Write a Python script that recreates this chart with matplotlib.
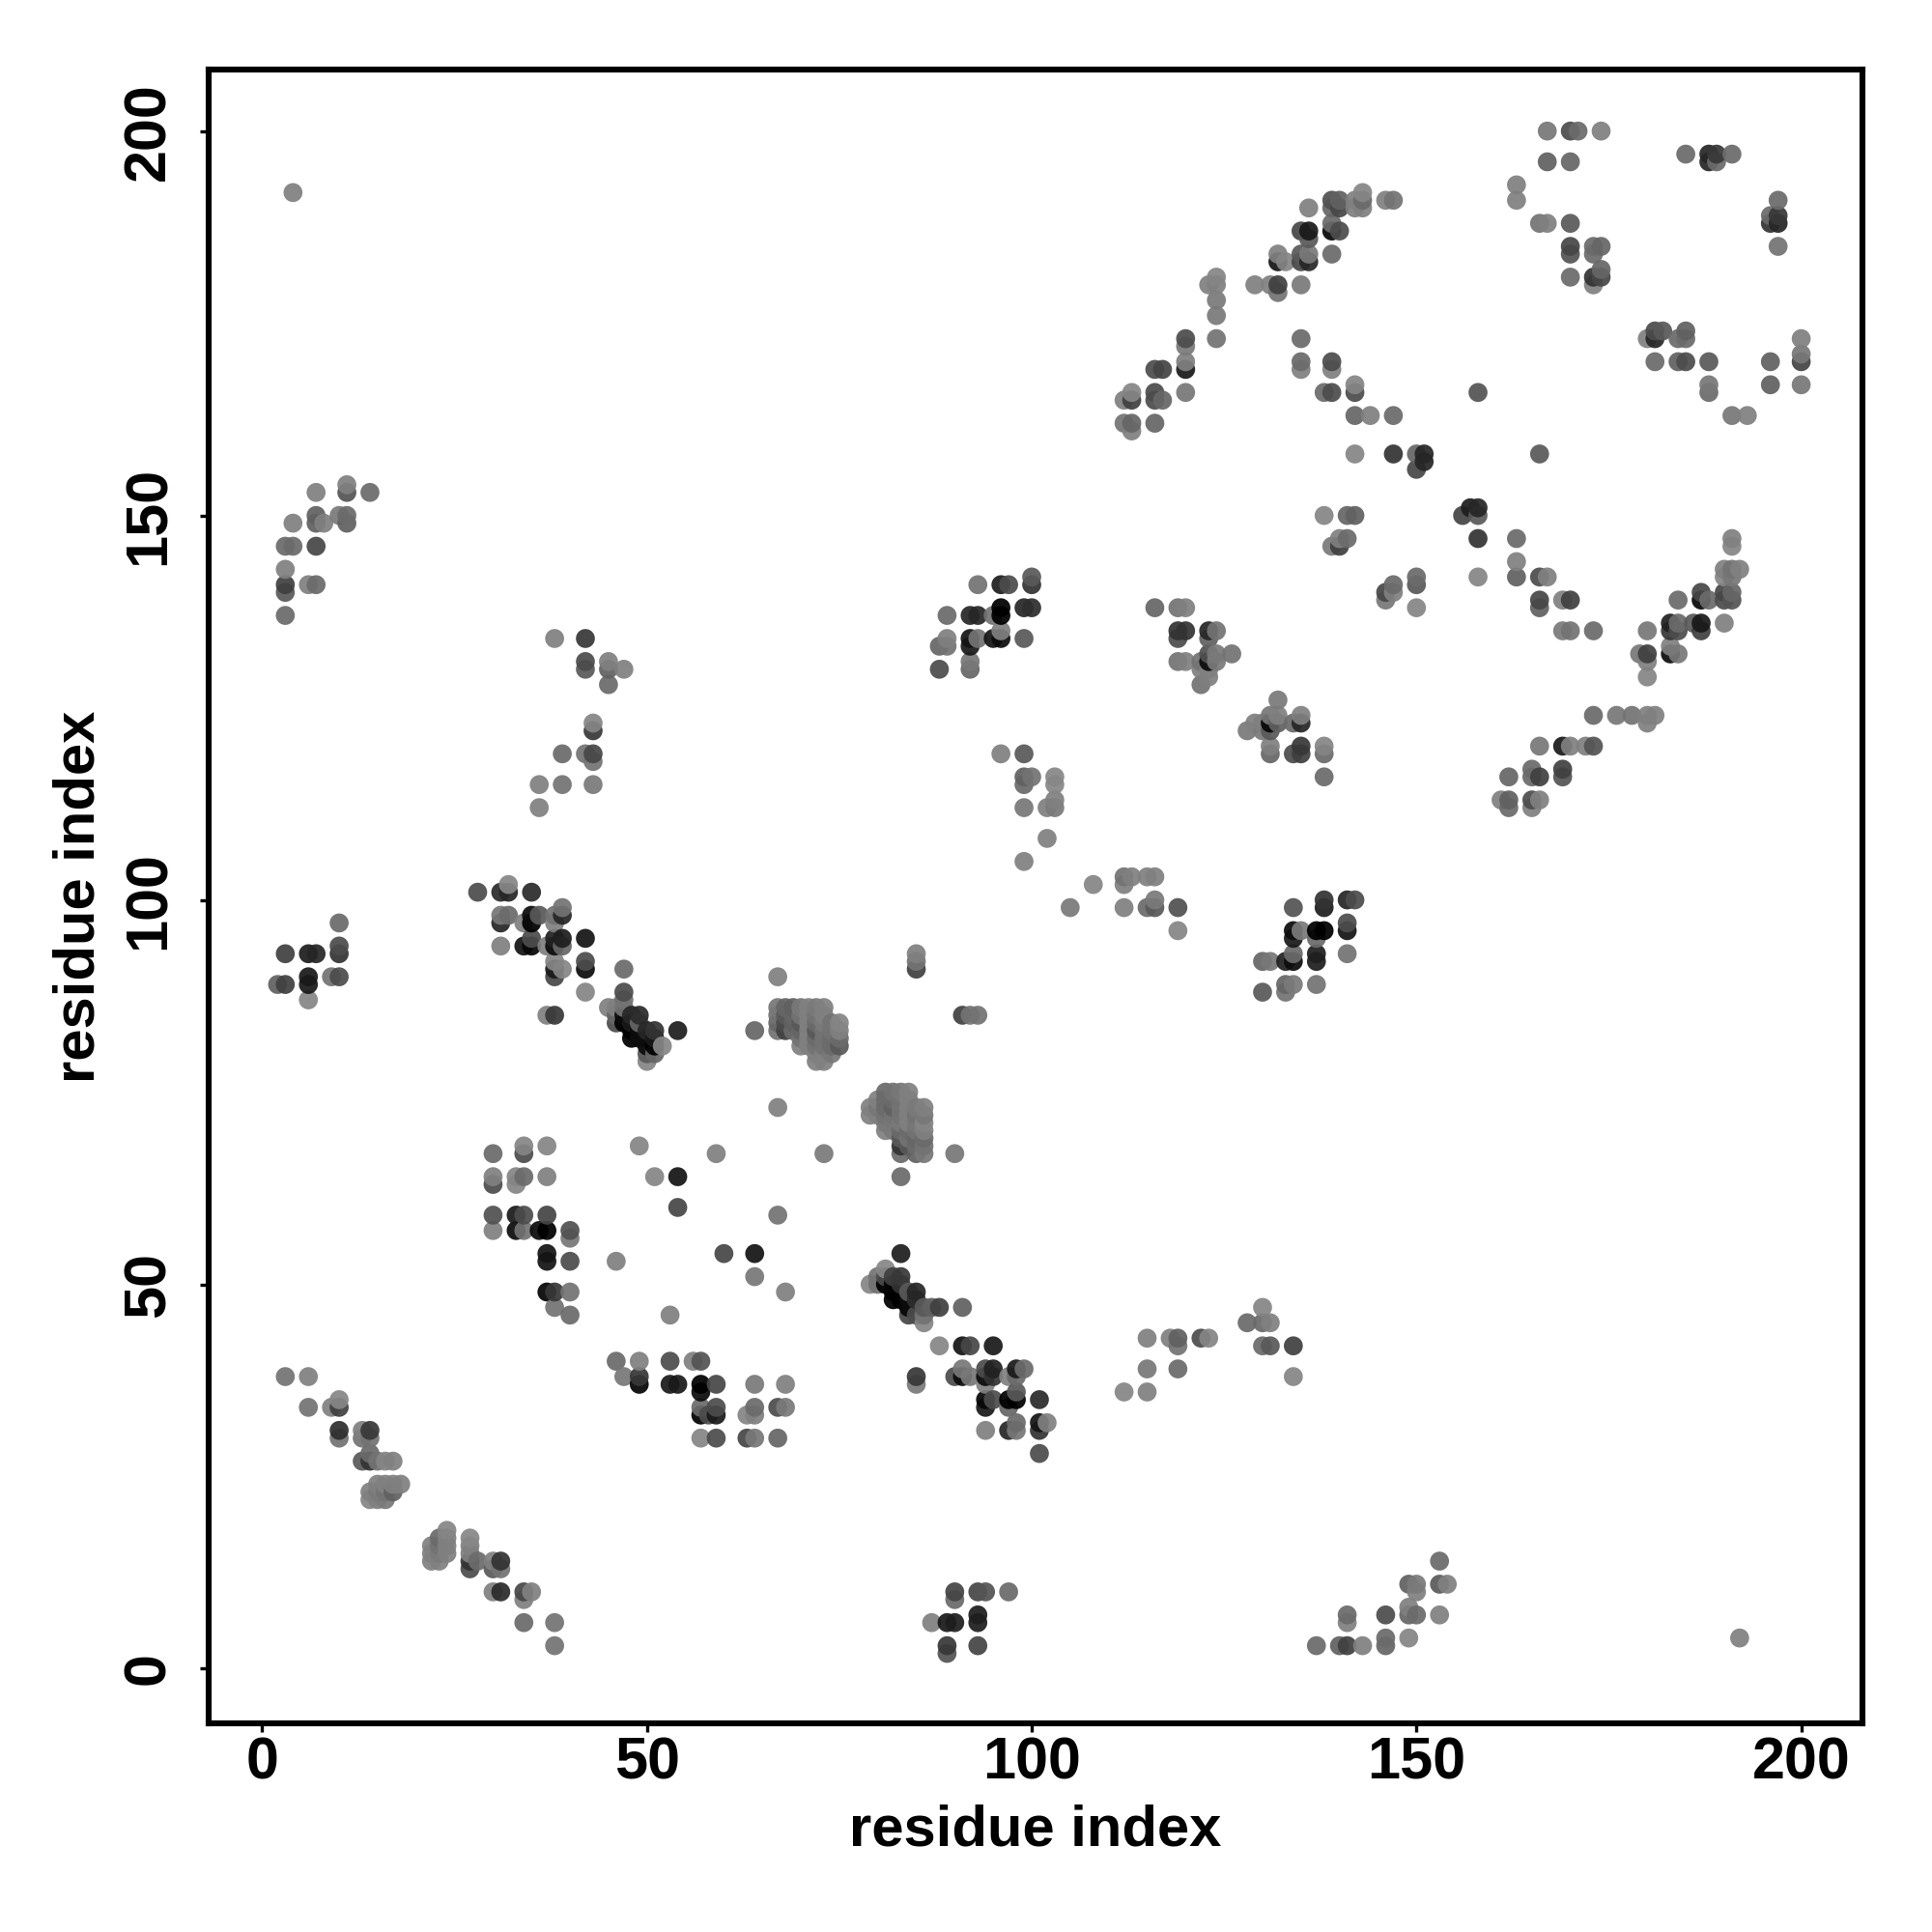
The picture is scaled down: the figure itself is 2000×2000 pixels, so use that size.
import numpy as np
import matplotlib
matplotlib.use("Agg")
import matplotlib.pyplot as plt

plt.rcParams["font.family"] = ["Liberation Sans", "DejaVu Sans"]

# (residue i, residue j, grey level of the dot)
low_diagonal = [
    (3,38,.45),(6,38,.5),(6,34,.45),(9,34,.5),(10,34,.25),(10,35,.53),(10,31,.18),(10,30,.45),
    (13,31,.5),(13,30,.45),(14,31,.22),(14,30,.45),(14,28,.42),(13,27,.35),(14,27,.2),(15,27,.45),
    (16,27,.52),(17,27,.5),(15,24,.5),(16,24,.5),(17,24,.5),(18,24,.5),(14,23,.5),(15,23,.48),
    (16,23,.45),(17,23,.38),(14,22,.52),(15,22,.5),(16,22,.48),
    (24,18,.52),(24,17,.5),(24,16,.5),(24,15,.5),(23,17,.42),(23,16,.45),(23,15,.48),(23,14,.5),
    (22,16,.5),(22,15,.5),(22,14,.5),
    (27,17,.53),(27,16,.5),(27,15,.5),(27,14,.2),(27,13,.3),(28,14,.42),(30,14,.5),(30,13,.35),
    (31,14,.2),(31,13,.45),(30,10,.5),(31,10,.17),(34,10,.28),(34,9,.5),(35,10,.5),
    (34,6,.42),(38,6,.45),(38,3,.45),
]
upper_left = [
    (10,97,.42),(10,94,.3),(10,93,.2),(3,93,.25),(6,93,.12),(7,93,.15),(6,90,.1),(6,89,.1),(6,87,.52),
    (2,89,.38),(3,89,.25),(9,90,.45),(10,90,.3),
    (3,137,.42),(3,140,.35),(3,141,.25),(3,143,.5),(6,141,.5),(7,141,.42),(3,146,.42),(4,146,.42),
    (7,146,.28),(4,149,.5),(7,150,.38),(7,149,.38),(8,149,.5),(10,150,.48),(11,150,.42),(11,149,.38),
    (7,153,.5),(11,154,.5),(11,153,.33),(14,153,.42),(4,192,.5),
]
block_100 = [
    (28,101,.3),(31,101,.17),(32,101,.15),(32,102,.53),(35,101,.17),(31,98,.47),(32,98,.42),(35,98,.05),
    (36,98,.35),(38,98,.45),(39,99,.45),(39,98,.15),(31,97,.15),(34,97,.5),(35,97,.0),(38,97,.5),
    (35,95,.3),(38,95,.13),(39,95,.12),(42,95,.08),(31,94,.5),(34,94,.08),(35,94,.03),(37,94,.5),
    (38,94,.05),(39,94,.4),(42,92,.3),(38,92,.52),(38,91,.1),(39,91,.52),(42,91,.05),(47,91,.42),
    (38,90,.28),(42,88,.52),(37,85,.5),(38,85,.22),
]
strand_85 = [
    (47,88,.3),(47,87,.45),(45,86,.5),(46,86,.5),(47,86,.45),(46,85,.4),(47,85,.05),(48,85,.15),
    (49,85,.17),(46,84,.3),(47,84,.0),(48,84,.1),(49,84,.4),(48,83,.0),(49,83,.05),(50,83,.15),
    (51,83,.2),(48,82,.0),(49,82,.05),(50,82,.05),(51,82,.1),(52,81,.53),(51,81,.0),(50,81,.05),
    (50,80,.35),(51,80,.4),(50,79,.52),(54,83,.12),
]
block_60 = [
    (30,67,.42),(34,68,.52),(34,67,.3),(37,68,.52),(49,68,.52),(59,67,.5),(30,64,.5),(33,64,.52),
    (34,64,.42),(37,64,.5),(51,64,.52),(54,64,.08),(30,63,.3),(33,63,.52),(54,60,.28),(30,59,.32),
    (33,59,.1),(34,59,.3),(37,59,.27),(30,57,.5),(33,57,.05),(34,57,.45),(36,57,.05),(37,57,.0),
    (40,57,.32),(40,56,.47),(37,54,.08),(37,53,.08),(40,53,.3),(46,53,.5),(60,54,.28),(37,49,.02),
    (38,49,.22),(40,49,.45),(38,47,.45),(40,46,.42),(53,46,.5),
]
block_35 = [
    (46,40,.42),(49,40,.5),(53,40,.3),(56,40,.5),(57,40,.33),(47,38,.47),(49,38,.22),(49,37,.02),
    (53,37,.1),(54,37,.1),(57,37,.0),(59,37,.28),(57,36,.05),(57,34,.42),(59,34,.3),(57,33,.0),
    (58,33,.3),(59,33,.1),(57,30,.52),(59,30,.3),(64,54,.08),(64,51,.47),(68,49,.5),(64,37,.48),
    (68,37,.5),(64,34,.42),(67,34,.3),(68,34,.48),(64,33,.5),(63,33,.52),(63,30,.28),(64,30,.47),
    (67,30,.4),
]
strand_48 = [
    (83,54,.12),(79,50,.52),(80,51,.45),(80,50,.45),(81,52,.53),(81,51,.3),(81,50,.0),(82,51,.25),
    (83,51,.22),(82,50,.02),(83,50,.2),(82,49,.0),(83,49,.0),(84,49,.35),(85,49,.15),(82,48,.0),
    (83,48,.0),(84,48,.05),(85,48,.18),(84,47,.02),(86,47,.35),(87,47,.38),(88,47,.25),(91,47,.38),
    (84,46,.28),(85,46,.3),(86,46,.45),(86,45,.52),
]
block_35_right = [
    (88,42,.53),(91,42,.08),(92,42,.28),(95,42,.1),(91,39,.47),(94,39,.3),(95,39,.13),(98,39,.1),
    (99,39,.42),(85,38,.22),(85,37,.48),(90,38,.3),(91,38,.05),(92,38,.47),(94,38,.05),(95,38,.2),
    (97,38,.5),(98,38,.42),(94,37,.5),(98,36,.35),(94,35,.03),(95,35,.3),(97,35,.0),(98,35,.0),
    (101,35,.17),(94,34,.1),(97,34,.4),(98,32,.42),(101,32,.08),(102,32,.5),(94,31,.5),(97,31,.15),
    (98,31,.47),(101,31,.2),(101,28,.3),
    (115,43,.5),(118,43,.5),(119,43,.38),(119,42,.45),(122,43,.3),(123,43,.52),(115,39,.47),(119,39,.42),
    (112,36,.52),(115,36,.5),(130,47,.52),(128,45,.42),(130,45,.42),(131,45,.5),(130,42,.42),(131,42,.35),
    (134,42,.25),(134,38,.52),
]
bottom_row = [
    (90,10,.27),(90,9,.42),(93,10,.28),(94,10,.33),(97,10,.42),(87,6,.5),(89,6,.1),(90,6,.12),(93,7,.12),
    (93,6,.12),(89,3,.22),(89,2,.33),(93,3,.27),
    (137,3,.42),(140,3,.38),(141,3,.25),(143,3,.5),(141,7,.42),(141,6,.5),(146,7,.3),(146,4,.42),(146,3,.4),
    (149,8,.5),(149,7,.4),(150,7,.42),(149,4,.52),(153,7,.5),(149,11,.38),(150,11,.48),(150,10,.5),
    (153,14,.42),(153,11,.35),(154,11,.5),(192,4,.5),
]
helix_a = [
    (67,90,.5),(85,93,.5),(85,92,.45),(85,91,.25),(91,85,.25),(92,85,.45),(93,85,.45),(64,83,.4),
    (67,86,.47),(68,86,.4),(69,86,.38),(70,86,.47),(71,86,.5),(72,86,.48),(73,86,.5),
    (67,85,.45),(68,85,.35),(69,85,.4),(70,85,.45),(71,85,.5),(72,85,.45),(73,85,.5),
    (67,84,.4),(68,84,.3),(69,84,.38),(70,84,.35),(71,84,.5),(72,84,.42),(73,84,.48),(74,84,.45),(75,84,.52),
    (67,83,.45),(68,83,.25),(69,83,.42),(70,83,.4),(71,83,.5),(72,83,.35),(73,83,.45),(74,83,.45),(75,83,.5),
    (70,82,.45),(71,82,.5),(72,82,.42),(73,82,.45),(74,82,.42),(75,82,.42),
    (70,81,.5),(71,81,.5),(72,81,.45),(73,81,.45),(74,81,.42),(75,81,.35),
    (72,80,.5),(73,80,.5),(74,80,.47),(72,79,.5),(73,79,.5),
]
helix_b = [
    (67,73,.5),(73,67,.48),(90,67,.47),(83,64,.42),(67,59,.45),
    (81,75,.42),(82,75,.45),(83,75,.47),(84,75,.5),
    (80,74,.5),(81,74,.42),(82,74,.42),(83,74,.45),(84,74,.5),
    (79,73,.5),(80,73,.47),(81,73,.42),(82,73,.38),(83,73,.45),(84,73,.5),(85,73,.48),(86,73,.5),
    (79,72,.5),(80,72,.5),(81,72,.45),(82,72,.45),(83,72,.45),(84,72,.5),(85,72,.45),(86,72,.47),
    (81,71,.47),(82,71,.47),(83,71,.48),(84,71,.5),(85,71,.47),(86,71,.52),
    (81,70,.5),(82,70,.48),(83,70,.42),(84,70,.42),(85,70,.45),(86,70,.5),
    (83,69,.35),(84,69,.45),(85,69,.4),(86,69,.42),
    (83,68,.2),(84,68,.35),(85,68,.42),(86,68,.45),(83,67,.42),(85,67,.38),(86,67,.47),
]
middle = [
    (99,105,.5),(102,108,.5),(99,112,.47),(102,112,.5),(103,112,.48),(103,113,.5),(103,115,.53),(103,116,.53),
    (99,116,.38),(100,116,.45),(99,115,.42),(96,119,.5),(99,119,.35),(105,99,.48),(108,102,.52),
    (112,103,.45),(113,103,.5),(115,103,.5),(116,103,.5),(112,102,.5),(112,99,.5),(115,99,.42),(116,99,.35),
    (116,100,.48),(119,99,.32),(119,96,.52),
    (134,99,.33),(138,100,.2),(138,99,.12),(141,100,.15),(142,100,.3),(141,97,.3),(141,96,.08),(134,96,.05),
    (135,96,.48),(137,96,.0),(138,96,.0),(134,95,.1),(137,95,.42),(134,93,.42),(137,93,.12),(141,93,.45),
    (130,92,.4),(131,92,.47),(133,92,.13),(134,92,.05),(137,92,.12),(133,89,.4),(134,89,.48),(137,89,.45),
    (130,88,.35),(133,88,.45),
]
block_135 = [
    (93,141,.45),(96,141,.12),(97,141,.3),(100,142,.35),(100,141,.2),(99,138,.15),(100,138,.18),(96,138,.0),
    (96,137,.0),(95,137,.45),(93,137,.15),(92,137,.15),(96,135,.5),(93,134,.45),(95,134,.08),(96,134,.05),
    (99,134,.35),(92,134,.08),(92,133,.1),(92,131,.47),(92,130,.4),(88,130,.3),(88,133,.4),(89,134,.5),
    (89,137,.42),(89,133,.45),
    (116,138,.4),(119,138,.45),(120,138,.5),(119,135,.2),(120,135,.2),(123,135,.15),(124,135,.45),
    (119,134,.3),(123,134,.38),(123,132,.32),(124,132,.48),(126,132,.45),(119,131,.45),(120,131,.5),
    (122,131,.45),(123,131,.05),(124,131,.48),(122,130,.5),(123,130,.5),(123,129,.5),(122,128,.45),
]
block_120 = [
    (132,126,.48),(131,124,.47),(132,124,.5),(135,124,.5),(129,123,.5),(130,123,.5),(131,123,.03),
    (132,123,.38),(134,123,.42),(135,123,.15),(128,122,.48),(130,122,.48),(131,122,.35),(131,120,.5),
    (135,120,.22),(138,120,.52),(131,119,.4),(134,119,.3),(135,119,.25),(138,119,.42),(138,116,.42),
    (150,142,.42),(150,141,.35),(150,138,.52),(147,141,.42),(147,140,.5),(146,140,.28),(146,139,.47),
]
top_strand = [
    (113,161,.5),(113,162,.4),(112,162,.45),(116,162,.4),(112,165,.5),(113,165,.25),(113,166,.52),
    (116,166,.3),(116,165,.3),(117,165,.4),(120,166,.47),(116,169,.3),(117,169,.27),(120,169,.1),
    (120,170,.5),(120,172,.48),(120,173,.3),(124,173,.45),(124,176,.48),(124,178,.48),(123,180,.5),
    (124,180,.5),(124,181,.52),(129,180,.5),(131,180,.5),(132,180,.25),(132,179,.45),(135,180,.48),
    (132,184,.5),(133,183,.52),(132,183,.08),(135,184,.35),(136,184,.48),(135,183,.28),(136,183,.15),
    (139,184,.42),(135,187,.28),(136,187,.1),(136,186,.35),(139,188,.42),(139,187,.03),(140,187,.3),
    (136,190,.5),(139,191,.32),(140,191,.38),(139,190,.4),(140,190,.28),(142,191,.5),(143,192,.52),
    (143,191,.42),(142,190,.5),(143,190,.5),(146,191,.5),(147,191,.45),
]
top_middle = [
    (135,173,.42),(135,170,.42),(135,169,.5),(139,170,.3),(139,169,.5),(138,166,.42),(139,166,.3),
    (142,167,.52),(142,166,.3),(142,163,.4),(144,163,.5),(147,163,.42),(158,166,.33),(142,158,.52),
    (147,158,.2),(150,158,.4),(151,158,.15),(151,157,.15),(150,156,.28),(166,158,.35),(157,151,.12),
    (158,151,.15),(156,150,.27),(158,150,.35),(158,147,.2),(163,147,.42),(163,144,.5),(138,150,.52),
    (141,150,.4),(142,150,.38),(141,147,.42),(140,147,.5),(140,146,.25),(139,146,.48),
]
top_right = [
    (167,200,.47),(170,200,.3),(171,200,.42),(174,200,.5),(167,196,.38),(170,196,.4),(163,193,.5),(163,191,.5),
    (166,188,.45),(167,188,.5),(170,188,.35),(170,185,.28),(170,184,.33),(173,185,.42),(174,185,.4),
    (173,184,.42),(170,181,.42),(174,182,.4),(173,181,.2),(174,181,.28),(173,180,.5),
    (185,197,.42),(188,197,.15),(189,197,.22),(191,197,.42),(188,196,.15),(189,196,.42),(197,191,.42),
    (196,189,.42),(197,189,.22),(196,188,.2),(197,188,.15),(197,185,.45),
    (181,174,.3),(182,174,.35),(185,174,.38),(180,173,.5),(181,173,.15),(184,173,.42),(185,173,.42),
    (181,170,.42),(184,170,.38),(185,170,.3),(188,170,.35),(188,167,.47),(188,166,.42),(196,170,.38),
    (200,173,.5),(200,171,.47),(200,170,.27),(196,167,.38),(200,167,.47),(191,163,.47),(193,163,.5),
]
right_arm = [
    (158,142,.52),(163,142,.38),(166,142,.3),(167,142,.5),(166,139,.28),(166,138,.38),(169,139,.5),(170,139,.25),
    (169,135,.48),(170,135,.45),(173,135,.42),(173,124,.42),(176,124,.47),(178,124,.45),(180,124,.5),(181,124,.5),
    (180,123,.5),(166,120,.47),(169,120,.1),(170,120,.5),(172,120,.5),(173,120,.33),(162,116,.4),(165,117,.42),
    (165,116,.42),(166,116,.25),(169,117,.25),(169,116,.33),(161,113,.5),(162,113,.38),(162,112,.42),
    (165,113,.3),(165,112,.5),(166,113,.5),
    (184,139,.42),(187,140,.28),(187,139,.03),(188,139,.42),(190,140,.28),(190,139,.3),(191,140,.4),(191,139,.33),
    (191,147,.5),(191,146,.52),(190,143,.5),(191,143,.45),(192,143,.5),(190,142,.52),(191,142,.47),(190,136,.5),
    (183,136,.13),(184,136,.42),(186,136,.35),(187,136,.1),(183,135,.22),(184,135,.3),(187,135,.25),(180,135,.47),
    (179,132,.47),(180,132,.25),(180,131,.5),(180,129,.52),(183,133,.5),(184,132,.47),(183,132,.05),
]
upper_mid_left = [
    (38,134,.5),(42,134,.22),(42,131,.3),(42,130,.35),(45,131,.5),(45,130,.38),(47,130,.5),(45,128,.42),
    (43,123,.52),(43,122,.22),(39,119,.42),(42,119,.45),(43,119,.28),(43,118,.45),(36,115,.5),(39,115,.45),
    (43,115,.48),(36,112,.5),
]
axis_ticks = [0, 50, 100, 150, 200]

clusters = [low_diagonal, upper_left, block_100, strand_85, block_60, block_35, strand_48, block_35_right,
            bottom_row, helix_a, helix_b, middle, block_135, block_120, top_strand, top_middle, top_right,
            right_arm, upper_mid_left]
contacts = np.array([row for c in clusters for row in c])

# later residues and larger j end up on top, same as a double loop over the map
order = np.lexsort((contacts[:, 1], contacts[:, 0]))
contacts = contacts[order]

fig = plt.figure(figsize=(10, 10), dpi=200)
ax = fig.add_axes([216 / 2000, 1 - 1784 / 2000, (1928 - 216) / 2000, (1784 - 72) / 2000])

ax.scatter(
    contacts[:, 0], contacts[:, 1],
    c=contacts[:, 2], cmap="gray", vmin=0, vmax=1,
    s=50, linewidths=0, alpha=0.93, clip_on=True,
)

ax.set_xlim(-6.96, 207.96)
ax.set_ylim(-7.1, 208.0)
ax.set_xticks(axis_ticks)
ax.set_yticks(axis_ticks)
ax.tick_params(length=3.2, width=1.2, labelsize=22)
ax.tick_params(axis="x", pad=1.5)
ax.tick_params(axis="y", pad=8.5)
for label in ax.get_xticklabels():
    label.set_fontweight("bold")
for label in ax.get_yticklabels():
    label.set_fontweight("bold")
    label.set_rotation(90)
    label.set_verticalalignment("center")

ax.set_xlabel("residue index", fontsize=21.5, fontweight="bold", labelpad=4.7)
ax.set_ylabel("residue index", fontsize=21.5, fontweight="bold", labelpad=6.2)
for spine in ax.spines.values():
    spine.set_linewidth(2.2)

fig.savefig("out.png", dpi=200, facecolor="white")
